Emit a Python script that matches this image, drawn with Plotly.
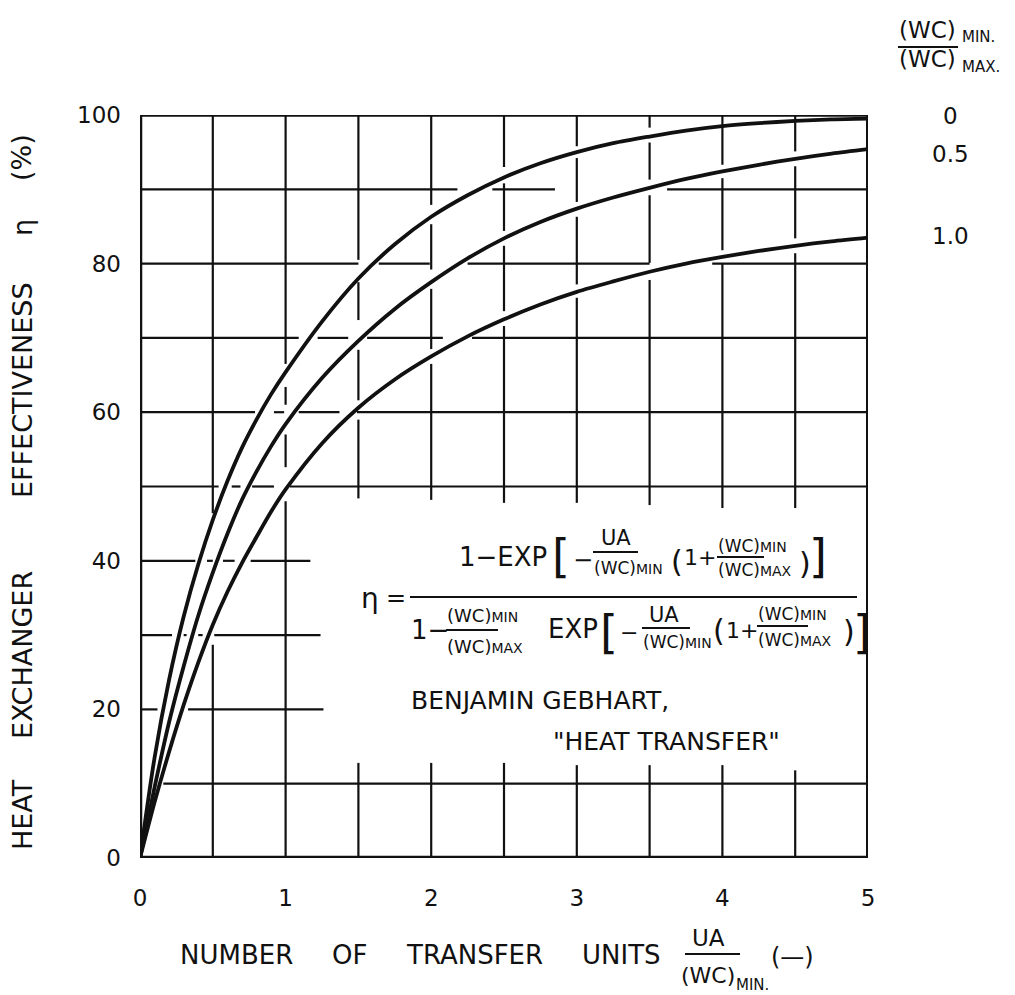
import plotly.graph_objects as go

# ---------------- data ----------------
ntu = [0, 0.1, 0.2, 0.3, 0.4, 0.5, 0.6, 0.7, 0.8, 0.9, 1.0, 1.25, 1.5, 1.75, 2.0, 2.25,
       2.5, 2.75, 3.0, 3.25, 3.5, 3.75, 4.0, 4.25, 4.5, 4.75, 5.0]

# heat-exchanger effectiveness (%) for (WC)min/(WC)max = 0, 0.5, 1.0
eff_cr0 = [0, 13.5, 24.0, 32.5, 39.5, 45.5, 50.7, 55.2, 59.0, 62.4, 65.4, 72.2, 78.0, 82.6, 86.3, 89.2,
           91.6, 93.5, 95.0, 96.2, 97.1, 97.9, 98.5, 98.9, 99.2, 99.4, 99.5]
eff_cr05 = [0, 9.5, 18.3, 25.8, 32.6, 38.4, 43.6, 48.2, 52.0, 55.4, 58.4, 64.6, 69.6, 73.9, 77.5, 80.7,
            83.4, 85.6, 87.4, 88.9, 90.2, 91.4, 92.4, 93.3, 94.1, 94.8, 95.4]
eff_cr10 = [0, 7.5, 14.3, 20.6, 26.3, 31.4, 35.8, 39.7, 43.2, 46.6, 49.6, 55.8, 60.6, 64.4, 67.5, 70.2,
            72.5, 74.5, 76.2, 77.6, 78.9, 80.0, 80.9, 81.7, 82.4, 83.0, 83.5]

ratio_labels = ["0", "0.5", "1.0"]

x_tick_vals = [0, 1, 2, 3, 4, 5]
x_tick_text = ["0", "1", "2", "3", "4", "5"]
y_tick_vals = [0, 20, 40, 60, 80, 100]
y_tick_text = ["0", "20", "40", "60", "80", "100"]

# grid segments (broken where curves / text pass), as drawn on the chart
h_grid = {
    90: [(0, 2.18), (2.42, 2.85), (3.62, 5)],
    80: [(0, 1.5), (1.64, 1.99), (2.25, 3.5), (3.93, 5)],
    70: [(0, 1.09), (1.22, 1.43), (1.56, 2.08), (2.28, 5)],
    60: [(0, 0.79), (0.92, 0.99), (1.09, 1.37), (1.49, 5)],
    50: [(0, 0.54), (0.63, 0.69), (0.77, 0.92), (1.03, 5)],
    40: [(0, 0.38), (0.46, 0.50), (0.57, 0.65), (0.76, 1.17)],
    30: [(0, 0.22), (0.30, 0.32), (0.40, 0.43), (0.51, 1.24)],
    20: [(0, 0.12), (0.33, 1.26)],
    10: [(0.16, 5)],
}
v_grid = {
    0.5: [(0, 28.7), (46.4, 100)],
    1.0: [(0, 48.0), (52.6, 57.0), (61.0, 63.4), (66.5, 100)],
    1.5: [(0, 12.8), (48.4, 59.0), (61.6, 68.4), (72.4, 77.5), (80.5, 100)],
    2.0: [(0, 12.8), (48.2, 66.5), (68.5, 76.6), (79.2, 85.3), (87.9, 100)],
    2.5: [(0, 12.8), (47.8, 71.6), (73.6, 82.4), (84.4, 90.8), (93, 100)],
    3.0: [(0, 12.5), (47.8, 75.4), (77.2, 86.3), (88.3, 94.2), (95.8, 100)],
    3.5: [(0, 12.5), (47.5, 77.8), (80.1, 89.2), (91.3, 96.3), (98.3, 100)],
    4.0: [(0, 12.5), (47.1, 80.0), (81.8, 91.5), (93.3, 100)],
    4.5: [(0, 11.8), (47.1, 81.4), (83.4, 93.1), (95.1, 100)],
}

FONT = "DejaVu Sans"
BLACK = "#111111"

fig = go.Figure()

for ys in [eff_cr0, eff_cr05, eff_cr10]:
    fig.add_trace(go.Scatter(x=ntu, y=ys, mode="lines",
                             line=dict(color=BLACK, width=3.8, shape="spline", smoothing=0.8),
                             showlegend=False, hoverinfo="skip"))

# grid
for yv, segs in h_grid.items():
    for a, b in segs:
        fig.add_shape(type="line", xref="x", yref="y", x0=a, x1=b, y0=yv, y1=yv,
                      line=dict(color=BLACK, width=2.2), layer="below")
for xv, segs in v_grid.items():
    for a, b in segs:
        fig.add_shape(type="line", xref="x", yref="y", x0=xv, x1=xv, y0=a, y1=b,
                      line=dict(color=BLACK, width=2.2), layer="below")

# frame
fig.add_shape(type="line", xref="x", yref="y", x0=0, x1=5, y0=100, y1=100, line=dict(color=BLACK, width=3.5))
fig.add_shape(type="line", xref="x", yref="y", x0=5, x1=5, y0=0, y1=100, line=dict(color=BLACK, width=4))
fig.add_shape(type="line", xref="x", yref="y", x0=0, x1=0, y0=0, y1=100, line=dict(color=BLACK, width=4.5))
fig.add_shape(type="line", xref="x", yref="y", x0=0, x1=5, y0=0, y1=0, line=dict(color=BLACK, width=4.5))

# pixel helpers for text placement
L, T, R, B = 140, 115, 868, 858


def px(xp):
    return (xp - L) / (R - L)


def py(yp):
    return (B - yp) / (B - T)


def note(xp, yp, text, size=24, anchor="center", angle=0):
    fig.add_annotation(x=px(xp), y=py(yp), xref="paper", yref="paper", text=text,
                       showarrow=False, textangle=angle, borderpad=0,
                       font=dict(size=size, family=FONT, color=BLACK),
                       xanchor=anchor, yanchor="middle")


def bar(x0, x1, yp, w=2):
    fig.add_shape(type="line", xref="paper", yref="paper", x0=px(x0), x1=px(x1),
                  y0=py(yp), y1=py(yp), line=dict(color=BLACK, width=w))


def wc(xp, yp, sub, big=18, small=14):
    fig.add_annotation(x=px(xp), y=py(yp), xref="paper", yref="paper",
                       text="(WC)<span style='font-size:%dpx'>%s</span>" % (small, sub),
                       showarrow=False, borderpad=0, font=dict(size=big, family=FONT, color=BLACK),
                       xanchor="left", yanchor="middle")


# ---- equation ----
# numerator
note(458, 557, "1−EXP", 26, "left")
note(561, 556, "[", 46)
note(583, 560, "−", 24)
note(616, 538, "UA", 21)
bar(593, 638, 552)
wc(593, 568, "MIN", 17, 14)
note(677, 561, "(", 30)
note(683, 557, "1+", 22, "left")
wc(717, 546, "MIN", 17, 14)
bar(717, 764, 557)
wc(717, 570, "MAX", 17, 14)
note(805, 563, ")", 30)
note(818, 556, "]", 46)

# eta =
note(370, 598, "η", 28)
note(396, 598, "=", 24)
bar(410, 857, 597, 2.2)

# denominator
note(410, 630, "1−", 26, "left")
wc(446, 615, "MIN", 18, 14)
bar(446, 498, 630)
wc(446, 646, "MAX", 18, 14)
note(547, 629, "EXP", 26, "left")
note(609, 632, "[", 46)
note(629, 632, "−", 22)
note(664, 615, "UA", 21)
bar(642, 690, 628)
wc(642, 642, "MIN", 17, 14)
note(719, 630, "(", 30)
note(725, 630, "1+", 22, "left")
wc(757, 614, "MIN", 17, 14)
bar(757, 808, 626)
wc(757, 640, "MAX", 17, 14)
note(849, 631, ")", 30)
note(862, 632, "]", 46)

# source
note(410, 700, "BENJAMIN GEBHART,", 25, "left")
note(552, 741, "\"HEAT TRANSFER\"", 25, "left")

# ---- x-axis title ----
for word, cx in [("NUMBER", 236), ("OF", 349), ("TRANSFER", 474), ("UNITS", 621)]:
    note(cx, 955, word, 26)
note(708, 938, "UA", 23)
bar(685, 740, 954, 2)
note(680, 975, "(WC)", 22, "left")
note(735, 985, "MIN.", 15, "left")
note(792, 957, "(—)", 24)

# ---- y-axis title ----
for word, cy in [("HEAT", 815), ("EXCHANGER", 655), ("EFFECTIVENESS", 390), ("η", 228), ("(%)", 158)]:
    note(22, cy, word, 27, "center", -90)

# ---- curve parameter labels ----
note(898, 30, "(WC)", 23, "left")
note(961, 37, "MIN.", 15, "left")
bar(898, 958, 47, 2)
note(898, 59, "(WC)", 23, "left")
note(961, 67, "MAX.", 15, "left")
for lab, yp in zip(ratio_labels, [116, 154, 236]):
    note(950, yp, lab, 23)

fig.update_layout(
    width=1015, height=995,
    margin=dict(l=L, r=1015 - R, t=T, b=995 - B),
    paper_bgcolor="white", plot_bgcolor="white",
    showlegend=False,
    font=dict(family=FONT, color=BLACK),
    xaxis=dict(range=[0, 5], showgrid=False, zeroline=False, showline=False, ticks="",
               tickvals=x_tick_vals, ticktext=x_tick_text, ticklabelstandoff=24,
               tickfont=dict(size=23, family=FONT, color=BLACK), fixedrange=True),
    yaxis=dict(range=[0, 100], showgrid=False, zeroline=False, showline=False, ticks="",
               tickvals=y_tick_vals, ticktext=y_tick_text, ticklabelstandoff=18,
               tickfont=dict(size=23, family=FONT, color=BLACK), fixedrange=True),
)

fig.write_html("out.html", config={"displayModeBar": False},
               post_script="document.body.style.margin='0';document.body.style.overflow='hidden';")
